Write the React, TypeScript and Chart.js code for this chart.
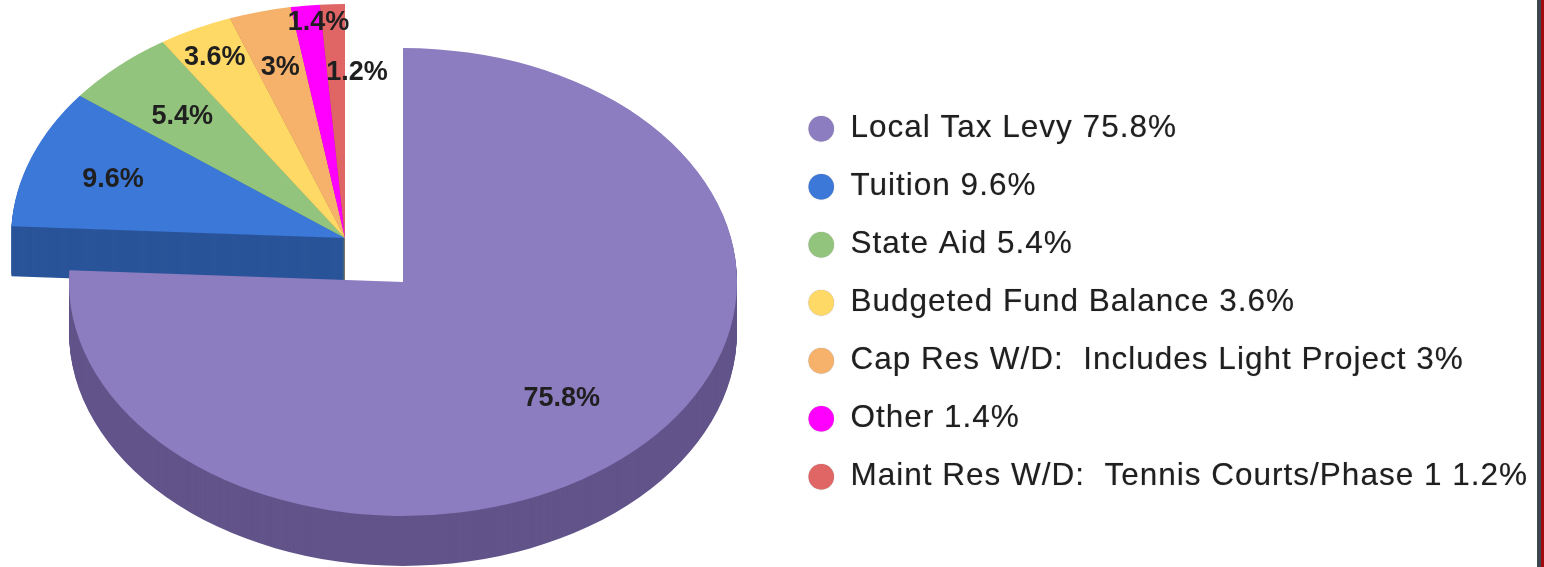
import React, { useEffect, useRef } from "react";
import { Chart, registerables } from "chart.js";

Chart.register(...registerables);

const categories = [
  "Local Tax Levy",
  "Tuition",
  "State Aid",
  "Budgeted Fund Balance",
  "Cap Res W/D:  Includes Light Project",
  "Other",
  "Maint Res W/D:  Tennis Courts/Phase 1",
];
const shares = [75.8, 9.6, 5.4, 3.6, 3, 1.4, 1.2];
const topColors = ["#8c7cc0", "#3c78d8", "#93c47d", "#ffd966", "#f6b26b", "#ff00ff", "#e06666"];
const sideColors = ["#62548a", "#2a5499", "#6a8f59", "#b89c49", "#b0804c", "#b000b0", "#a04848"];

// Projection of the flat pie into the tilted, extruded look of the picture.
const CENTER_X = 403;
const CENTER_Y = 282;
const RADIUS_X = 334;
const RADIUS_Y = 234;
const DEPTH = 50;
const EXPLODE_X = -58;
const EXPLODE_Y = -44;
// Label placement: fraction of the radius, plus a small nudge.
const labelFraction = [0.69, 0.74, 0.717, 0.87, 0.76, 0.94, 0.72];
const labelNudgeX = [0, 0, 0, 0, 0, 11, 21];
const labelNudgeY = [0, 1, 2, 2, 2, 3, 3];

const LABEL_FONT = "bold 27px 'Liberation Sans', Arial, sans-serif";
const INK = "#1f1f1f";

const pie3d = {
  id: "pie3d",
  beforeLayout(chart: any) {
    chart.ctx.letterSpacing = "1px";
  },
  beforeDraw(chart: any) {
    // Soft heavier legend text, as in the slightly blurred original.
    chart.ctx.shadowColor = "rgba(31,31,31,0.45)";
    chart.ctx.shadowBlur = 1;
  },
  beforeDatasetDraw(chart: any) {
    const ctx = chart.ctx as CanvasRenderingContext2D;
    ctx.shadowColor = "transparent";
    ctx.shadowBlur = 0;
    const arcs = chart.getDatasetMeta(0).data as any[];
    const place = (arc: any, i: number, drop: number) => {
      const s = i === 0 ? 0 : 1;
      ctx.translate(CENTER_X + s * EXPLODE_X, CENTER_Y + s * EXPLODE_Y + drop);
      ctx.scale(RADIUS_X / arc.outerRadius, RADIUS_Y / arc.outerRadius);
      ctx.translate(-arc.x, -arc.y);
    };
    const paintGroup = (group: number[]) => {
      // Sides back to front, so the slice nearest the viewer covers the others.
      for (const i of [...group].reverse()) {
        const arc = arcs[i];
        for (let d = DEPTH; d >= 1; d--) {
          ctx.save();
          place(arc, i, d);
          ctx.beginPath();
          ctx.moveTo(arc.x, arc.y);
          ctx.arc(arc.x, arc.y, arc.outerRadius, arc.startAngle, arc.endAngle);
          ctx.closePath();
          ctx.fillStyle = sideColors[i];
          ctx.fill();
          ctx.restore();
        }
      }
      for (const i of group) {
        ctx.save();
        place(arcs[i], i, 0);
        arcs[i].draw(ctx);
        ctx.restore();
      }
    };
    paintGroup([1, 2, 3, 4, 5, 6]);
    paintGroup([0]);

    ctx.save();
    (ctx as any).letterSpacing = "0px";
    ctx.font = LABEL_FONT;
    ctx.fillStyle = INK;
    ctx.textAlign = "center";
    ctx.textBaseline = "middle";
    arcs.forEach((arc, i) => {
      const mid = (arc.startAngle + arc.endAngle) / 2;
      const s = i === 0 ? 0 : 1;
      const x = CENTER_X + s * EXPLODE_X + Math.cos(mid) * RADIUS_X * labelFraction[i] + labelNudgeX[i];
      const y = CENTER_Y + s * EXPLODE_Y + Math.sin(mid) * RADIUS_Y * labelFraction[i] + labelNudgeY[i];
      ctx.fillText(`${shares[i]}%`, x, y);
    });
    ctx.restore();
    return false;
  },
};

export default function App() {
  const ref = useRef<HTMLCanvasElement>(null);
  useEffect(() => {
    const chart = new Chart(ref.current as HTMLCanvasElement, {
      type: "pie",
      data: {
        labels: categories.map((c, i) => `${c} ${shares[i]}%`),
        datasets: [{ data: shares, backgroundColor: topColors, borderWidth: 0 }],
      },
      options: {
        responsive: false,
        animation: false,
        layout: { padding: { top: 48, bottom: 48, left: 0, right: 6 } },
        plugins: {
          tooltip: { enabled: false },
          legend: {
            position: "right",
            align: "end",
            labels: {
              usePointStyle: true,
              pointStyle: "circle",
              boxHeight: 18,
              boxWidth: 27,
              padding: 26.5,
              color: INK,
              font: { family: "'Liberation Sans', Arial, sans-serif", size: 31.5 },
            },
          },
        },
      },
      plugins: [pie3d],
    } as any);
    return () => chart.destroy();
  }, []);
  return (
    <div style={{ position: "fixed", left: 0, top: 0, width: 1544, height: 567, background: "#fff", overflow: "hidden" }}>
      <canvas ref={ref} width={1544} height={567} style={{ display: "block" }} />
      <div style={{ position: "absolute", left: 1537, top: 0, width: 4, height: 567, background: "#3c4650" }} />
      <div style={{ position: "absolute", left: 1541, top: 0, width: 3, height: 567, background: "#a00a0e" }} />
    </div>
  );
}
